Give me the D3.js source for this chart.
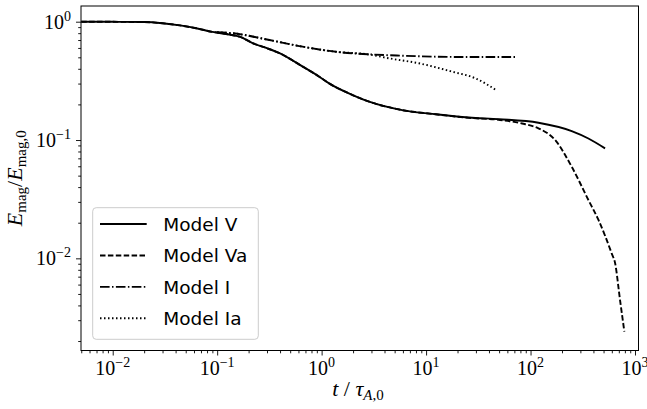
<!DOCTYPE html>
<html>
<head>
<meta charset="utf-8">
<script src="https://cdn.jsdelivr.net/npm/d3@7"></script>
<style>
  html, body { margin: 0; padding: 0; background: #fff; }
  svg { display: block; }
</style>
</head>
<body>
<svg id="chart" width="647" height="409"></svg>
<script>
// ---- data ----
const timeV  = [0.005, 0.01, 0.02, 0.03, 0.044, 0.063, 0.09, 0.13, 0.164, 0.218, 0.295, 0.39, 0.66, 0.95, 1.18, 1.98, 2.85, 5.9, 12.4, 25.7, 50, 119, 248, 358, 517];
const valueV = [1.0, 0.998, 0.993, 0.97, 0.93, 0.88, 0.82, 0.78, 0.747, 0.66, 0.6, 0.545, 0.417, 0.343, 0.301, 0.24, 0.211, 0.179, 0.165, 0.155, 0.15, 0.14, 0.119, 0.103, 0.085];

const timeVa  = [0.005, 0.01, 0.02, 0.03, 0.044, 0.063, 0.09, 0.13, 0.164, 0.218, 0.295, 0.39, 0.66, 0.95, 1.18, 1.98, 2.85, 5.9, 12.4, 25.7, 50, 83, 119, 172, 248, 358, 447, 598, 645, 719, 791];
const valueVa = [1.0, 0.998, 0.993, 0.97, 0.93, 0.88, 0.82, 0.78, 0.747, 0.66, 0.6, 0.545, 0.417, 0.343, 0.301, 0.24, 0.211, 0.179, 0.165, 0.154, 0.148, 0.138, 0.1256, 0.1, 0.0594, 0.0311, 0.0211, 0.011, 0.0091, 0.00444, 0.0024];

const timeI  = [0.1, 0.1416, 0.317, 0.659, 1.37, 2.85, 5.93, 12.4, 25.7, 71.6];
const valueI = [0.815, 0.798, 0.7, 0.615, 0.557, 0.53, 0.516, 0.506, 0.503, 0.503];

const timeIa  = [0.1, 0.1416, 0.317, 0.659, 1.37, 2.85, 4.43, 8.55, 17.8, 29.7, 47.8];
const valueIa = [0.815, 0.798, 0.7, 0.615, 0.557, 0.528, 0.49, 0.445, 0.378, 0.332, 0.261];

const seriesNames = ["Model V", "Model Va", "Model I", "Model Ia"];
const xTickExps = [-2, -1, 0, 1, 2, 3];
const yTickExps = [-2, -1, 0];

(function () {
// ---- layout ----
const svg = d3.select("#chart");
const pLeft = 81, pRight = 638.5, pTop = 6, pBottom = 350.5;

const x = d3.scaleLog().domain([Math.pow(10, -2.3035), Math.pow(10, 3.0335)]).range([pLeft, pRight]);
const y = d3.scaleLog().domain([Math.pow(10, -2.779), Math.pow(10, 0.1327)]).range([pBottom, pTop]);

const dashes = ["none", "5.5,2.4", "9.6,2.4,1.5,2.4", "1.5,2.5"];

const series = [
  timeV.map((t, i) => [t, valueV[i]]),
  timeVa.map((t, i) => [t, valueVa[i]]),
  timeI.map((t, i) => [t, valueI[i]]),
  timeIa.map((t, i) => [t, valueIa[i]])
];

const line = d3.line().x(d => x(d[0])).y(d => y(d[1])).curve(d3.curveMonotoneX);

svg.append("clipPath").attr("id", "clip").append("rect")
  .attr("x", pLeft).attr("y", pTop).attr("width", pRight - pLeft).attr("height", pBottom - pTop);

const g = svg.append("g").attr("clip-path", "url(#clip)");
[3, 2, 1, 0].forEach(i => {
  g.append("path").datum(series[i])
    .attr("d", line)
    .attr("fill", "none")
    .attr("stroke", "#000")
    .attr("stroke-width", 1.9)
    .attr("stroke-dasharray", dashes[i])
    .attr("stroke-linejoin", "round");
});

// ---- axes ----
function minorTicks(lo, hi) {
  const out = [];
  for (let e = Math.floor(Math.log10(lo)); e <= Math.ceil(Math.log10(hi)); e++) {
    for (let m = 2; m <= 9; m++) {
      const v = m * Math.pow(10, e);
      if (v >= lo && v <= hi) out.push(v);
    }
  }
  return out;
}
const [xlo, xhi] = x.domain();
const [ylo, yhi] = y.domain();

const xMajor = xTickExps.map(e => Math.pow(10, e));
const yMajor = yTickExps.map(e => Math.pow(10, e));

function styleAxis(sel) {
  sel.select(".domain").remove();
  sel.selectAll("line").attr("stroke", "#000").attr("stroke-width", 0.9);
}

svg.append("g").attr("transform", `translate(0,${pBottom})`)
  .call(d3.axisBottom(x).tickValues(minorTicks(xlo, xhi)).tickSize(2.8).tickFormat(""))
  .call(styleAxis);
svg.append("g").attr("transform", `translate(0,${pBottom})`)
  .call(d3.axisBottom(x).tickValues(xMajor).tickSize(5).tickFormat(""))
  .call(styleAxis);
svg.append("g").attr("transform", `translate(${pLeft},0)`)
  .call(d3.axisLeft(y).tickValues(minorTicks(ylo, yhi)).tickSize(2.8).tickFormat(""))
  .call(styleAxis);
svg.append("g").attr("transform", `translate(${pLeft},0)`)
  .call(d3.axisLeft(y).tickValues(yMajor).tickSize(5).tickFormat(""))
  .call(styleAxis);

svg.append("rect").attr("x", pLeft).attr("y", pTop)
  .attr("width", pRight - pLeft).attr("height", pBottom - pTop)
  .attr("fill", "none").attr("stroke", "#000").attr("stroke-width", 1);

const serif = "'Liberation Serif', 'Times New Roman', serif";
function expLabel(sel, e) {
  sel.append("tspan").text("10");
  sel.append("tspan").attr("dy", -8).attr("font-size", 14).text(String(e).replace("-", "\u2212"));
}

xTickExps.forEach(e => {
  const t = svg.append("text")
    .attr("x", x(Math.pow(10, e)))
    .attr("y", 375)
    .attr("text-anchor", "middle")
    .attr("font-family", serif).attr("font-size", 20).attr("fill", "#000");
  expLabel(t, e);
});
yTickExps.forEach(e => {
  const t = svg.append("text")
    .attr("x", 71)
    .attr("y", y(Math.pow(10, e)) + 7)
    .attr("text-anchor", "end")
    .attr("font-family", serif).attr("font-size", 20).attr("fill", "#000");
  expLabel(t, e);
});

const xl = svg.append("text").attr("x", 358).attr("y", 396)
  .attr("text-anchor", "middle").attr("font-family", serif).attr("font-size", 22).attr("fill", "#000");
xl.append("tspan").attr("font-style", "italic").text("t");
xl.append("tspan").text(" / ");
xl.append("tspan").attr("font-style", "italic").text("\u03C4");
xl.append("tspan").attr("dy", 4).attr("font-size", 15).attr("font-style", "italic").text("A");
xl.append("tspan").attr("font-size", 15).text(",0");

const yl = svg.append("text")
  .attr("transform", `translate(22,${(pTop + pBottom) / 2}) rotate(-90)`)
  .attr("text-anchor", "middle").attr("font-family", serif).attr("font-size", 22).attr("fill", "#000");
yl.append("tspan").attr("font-style", "italic").text("E");
yl.append("tspan").attr("dy", 4).attr("font-size", 15).text("mag");
yl.append("tspan").attr("dy", -4).text("/");
yl.append("tspan").attr("font-style", "italic").text("E");
yl.append("tspan").attr("dy", 4).attr("font-size", 15).text("mag,0");

const lg = svg.append("g");
lg.append("rect").attr("x", 92.7).attr("y", 207.7).attr("width", 165.6).attr("height", 131.6)
  .attr("rx", 3.5).attr("fill", "#fff").attr("fill-opacity", 0.8)
  .attr("stroke", "#cccccc").attr("stroke-width", 1);
const legY = d3.scalePoint().domain(seriesNames).range([224, 318.3]);
seriesNames.forEach((name, i) => {
  lg.append("line").attr("x1", 100).attr("x2", 146.7)
    .attr("y1", legY(name)).attr("y2", legY(name))
    .attr("stroke", "#000").attr("stroke-width", 1.9).attr("stroke-dasharray", dashes[i]);
  lg.append("text").attr("x", 163.3).attr("y", legY(name) + 7)
    .attr("font-family", "'DejaVu Sans', sans-serif").attr("font-size", 18.5).attr("fill", "#000")
    .text(name);
});
})();
</script>
</body>
</html>
